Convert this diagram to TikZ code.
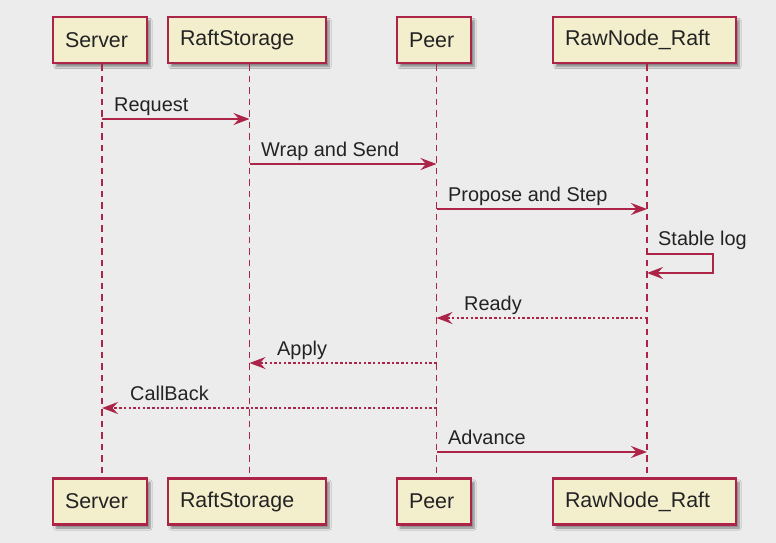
\documentclass[tikz,border=0pt]{standalone}
\usepackage{fontspec}
\setmainfont{Liberation Sans}
\usetikzlibrary{arrows.meta,shadows.blur}
\definecolor{bg}{RGB}{236,236,236}
\definecolor{pbord}{RGB}{172,36,72}
\definecolor{pfill}{RGB}{243,239,205}
\definecolor{txt}{RGB}{35,35,35}
\begin{document}
\begin{tikzpicture}[x=1pt,y=-1pt,
  part/.style={draw=pbord, fill=pfill, line width=2.2pt, minimum height=46pt, inner ysep=0pt, inner xsep=12pt,
    align=left, text=txt, font=\fontsize{21.4}{24}\selectfont,
    blur shadow={shadow xshift=3pt, shadow yshift=-3.5pt, shadow blur steps=6, shadow opacity=45}},
  life/.style={draw=pbord, line width=1.8pt, dash pattern=on 6.5pt off 5pt},
  msg/.style={color=pbord, line width=1.8pt, -{Stealth[length=16pt,width=12pt,inset=5.5pt]}},
  reply/.style={msg, dash pattern=on 2.5pt off 2.2pt},
  lbl/.style={anchor=base west, inner sep=0pt, font=\fontsize{19.9}{23}\selectfont, text=txt}]
\fill[bg] (0,0) rectangle (776,543);
\useasboundingbox (0,0) rectangle (776,543);
% participants (top)
\node[part, text width=70pt]  (srvT)  at (100,40)   {Server};
\node[part, text width=134pt] (rsT)   at (247,40) {RaftStorage};
\node[part, text width=50pt]  (peerT) at (434,40) {Peer};
\node[part, text width=159pt] (rawT)  at (644.5,40) {RawNode\_Raft};
% participants (bottom)
\node[part, text width=70pt]  (srvB)  at (100,501.5)   {Server};
\node[part, text width=134pt] (rsB)   at (247,501.5) {RaftStorage};
\node[part, text width=50pt]  (peerB) at (434,501.5) {Peer};
\node[part, text width=159pt] (rawB)  at (644.5,501.5) {RawNode\_Raft};
% lifeline anchors (slightly right of the box centres, as in the original)
\coordinate (srvL) at ([xshift=2pt]srvT.south);
\coordinate (rsL) at ([xshift=2.5pt]rsT.south);
\coordinate (peerL) at ([xshift=2.5pt]peerT.south);
\coordinate (rawL) at ([xshift=2.5pt]rawT.south);
\draw[life] (srvL) -- (srvL |- srvB.north);
\draw[life] (rsL) -- (rsL |- rsB.north);
\draw[life] (peerL) -- (peerL |- peerB.north);
\draw[life] (rawL) -- (rawL |- rawB.north);
% message end points on lifelines
\coordinate (m1a) at (srvL |- 0,119);
\coordinate (m1b) at (rsL |- 0,119);
\coordinate (m2a) at (rsL |- 0,164);
\coordinate (m2b) at (peerL |- 0,164);
\coordinate (m3a) at (peerL |- 0,209);
\coordinate (m3b) at (rawL |- 0,209);
\coordinate (m4a) at (rawL |- 0,254);
\coordinate (m4b) at (rawL |- 0,273);
\coordinate (m5a) at (rawL |- 0,318);
\coordinate (m5b) at (peerL |- 0,318);
\coordinate (m6a) at (peerL |- 0,363);
\coordinate (m6b) at (rsL |- 0,363);
\coordinate (m7a) at (peerL |- 0,408);
\coordinate (m7b) at (srvL |- 0,408);
\coordinate (m8a) at (peerL |- 0,452);
\coordinate (m8b) at (rawL |- 0,452);
% messages
\draw[msg] (m1a) -- (m1b);
\node[lbl] (l1) at (114,111) {Request};
\draw[msg] (m2a) -- (m2b);
\node[lbl] (l2) at (261,156) {Wrap and Send};
\draw[msg] (m3a) -- (m3b);
\node[lbl] (l3) at (448,201) {Propose and Step};
\draw[msg] (m4a) -- ++(66,0) -- ++(0,19) -- (m4b);
\node[lbl] (l4) at (658,245) {Stable log};
\draw[reply] (m5a) -- (m5b);
\node[lbl] (l5) at (464,310) {Ready};
\draw[reply] (m6a) -- (m6b);
\node[lbl] (l6) at (277,355) {Apply};
\draw[reply] (m7a) -- (m7b);
\node[lbl] (l7) at (130,400) {CallBack};
\draw[msg] (m8a) -- (m8b);
\node[lbl] (l8) at (448,444) {Advance};
\end{tikzpicture}
\end{document}
